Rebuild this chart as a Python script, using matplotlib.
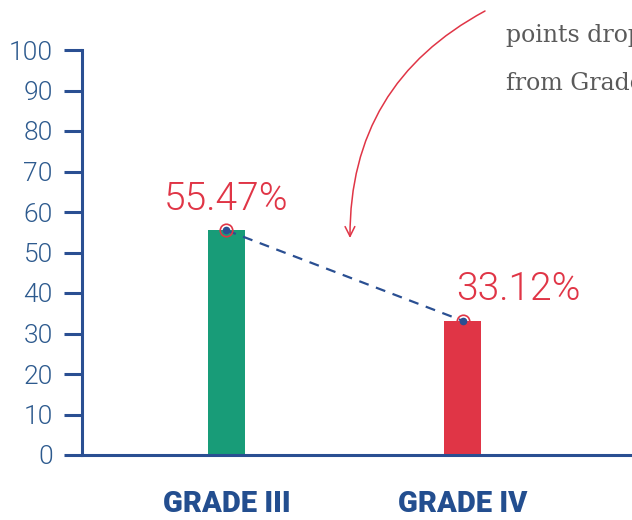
import matplotlib
matplotlib.use('Agg')
import matplotlib.pyplot as plt

# data
grades = ['GRADE III', 'GRADE IV']
percent = [55.47, 33.12]
bar_colors = ['#189c78', '#e03546']
yticks = [0, 10, 20, 30, 40, 50, 60, 70, 80, 90, 100]
note_lines = ['points drop', 'from Grade']

blue = '#2a4f92'
red = '#e03546'

fig = plt.figure(figsize=(6.32, 5.2), dpi=100)
ax = fig.add_axes([82 / 632, 65 / 520, 550 / 632, 405 / 520])

x = list(range(len(grades)))
ax.bar(x, percent, width=0.156, color=bar_colors, zorder=2)

# dashed line between bar tops
ax.plot(x, percent, linestyle=(0, (4.5, 3.5)), color=blue, linewidth=1.6, zorder=3)
ax.plot(x, percent, linestyle='none', marker='o', markersize=9, markerfacecolor='none',
        markeredgecolor=red, markeredgewidth=1.2, zorder=4)
ax.plot(x, percent, linestyle='none', marker='o', markersize=4.5, color=blue, zorder=5)

# value labels: first centred, second shifted right
label_offsets = [(0, 9), (-5, 9)]
label_ha = ['center', 'left']
for xi, v, off, ha in zip(x, percent, label_offsets, label_ha):
    ax.annotate('%.2f%%' % v, (xi, v), xytext=off, textcoords='offset points',
                ha=ha, va='bottom', fontsize=28, color=red,
                family='Roboto', fontweight=300)

ax.set_xlim(-0.611, 1.715)
ax.set_ylim(0, 100)
ax.set_yticks(yticks)
ax.set_xticks(x)
ax.set_xticklabels(grades)

for s in ['top', 'right']:
    ax.spines[s].set_visible(False)
for s in ['left', 'bottom']:
    ax.spines[s].set_color(blue)
    ax.spines[s].set_linewidth(2.2)

ax.tick_params(axis='y', direction='out', length=13, width=2.2, color=blue, pad=8,
               labelsize=19, labelcolor='#2d5a8e')
ax.tick_params(axis='x', length=0, pad=25, labelsize=21, labelcolor='#234e8f')
for lab in ax.get_yticklabels():
    lab.set_family('Roboto')
    lab.set_fontweight(300)
for lab in ax.get_xticklabels():
    lab.set_family('Roboto')
    lab.set_fontweight(900)
    lab.set_va('top')

# note and curved arrow
for i, line in enumerate(note_lines):
    fig.text(506 / 632, 1 - (42 + 48 * i) / 520, line, fontsize=17, color='#5a5a5a',
             family='DejaVu Serif', ha='left', va='baseline')

ax.annotate('', xy=(350 / 632, 1 - 238 / 520), xycoords='figure fraction',
            xytext=(485 / 632, 1 - 11 / 520), textcoords='figure fraction',
            arrowprops=dict(arrowstyle='->,head_length=0.7,head_width=0.35', color=red,
                            linewidth=1.1, connectionstyle='arc3,rad=0.3',
                            shrinkA=0, shrinkB=0))

fig.savefig('out.png', dpi=100)
